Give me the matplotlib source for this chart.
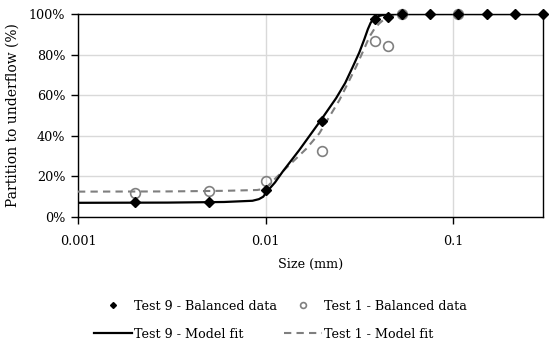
import matplotlib
matplotlib.use("Agg")
import matplotlib.pyplot as plt
from matplotlib.ticker import FixedLocator, FuncFormatter, NullLocator

plt.rcParams['font.family'] = ['DejaVu Serif']

# Balanced data
t9_size = [0.002, 0.005, 0.01, 0.02, 0.038, 0.045, 0.053, 0.075, 0.106, 0.150, 0.212, 0.300]
t9_part = [7.5, 7.2, 13.3, 47.4, 97.4, 98.4, 100, 100, 100, 100, 100, 100]
t1_size = [0.002, 0.005, 0.01, 0.02, 0.038, 0.045, 0.053, 0.106]
t1_part = [12.0, 13.0, 17.7, 32.7, 86.7, 84.4, 100, 100]

# Model fit curves
t9_fit_size = [0.001, 0.003, 0.006, 0.0085, 0.0092, 0.0097, 0.0101, 0.0112, 0.0123, 0.0151,
               0.0197, 0.0237, 0.0265, 0.0291, 0.0315, 0.0335, 0.0350, 0.0362, 0.0375, 0.0400,
               0.0430, 0.0455, 0.06, 0.3]
t9_fit_part = [7.0, 7.1, 7.4, 8.0, 8.8, 10.0, 12.3, 17.0, 22.3, 33.0,
               47.8, 58.5, 66.0, 74.0, 81.0, 87.5, 92.5, 95.6, 97.6, 99.0,
               99.7, 99.9, 100, 100]
t1_fit_size = [0.001, 0.003, 0.006, 0.0090, 0.0097, 0.0102, 0.0114, 0.0135, 0.0164, 0.0193,
               0.0247, 0.0303, 0.0335, 0.0357, 0.0380, 0.0403, 0.0430, 0.0455, 0.0517, 0.06, 0.3]
t1_fit_part = [12.5, 12.6, 12.9, 13.3, 13.8, 15.0, 19.5, 26.0, 33.5, 41.2,
               57.6, 74.0, 83.0, 88.8, 92.8, 95.4, 97.6, 98.7, 99.8, 100, 100]

fig = plt.figure(figsize=(5.5, 3.48), dpi=100)
ax = fig.add_axes([0.1418, 0.3764, 0.8455, 0.5834])

ax.plot(t1_fit_size, t1_fit_part, color='#7f7f7f', lw=1.5, ls=(0, (3.5, 2.5)),
        label='Test 1 - Model fit', zorder=3)
ax.plot(t9_fit_size, t9_fit_part, color='black', lw=1.6, label='Test 9 - Model fit', zorder=4)
ax.plot(t1_size, t1_part, ls='none', marker='o', ms=7, mfc='none', mec='#808080', mew=1.2,
        label='Test 1 - Balanced data', zorder=5, clip_on=False)
ax.plot(t9_size, t9_part, ls='none', marker='D', ms=5, color='black',
        label='Test 9 - Balanced data', zorder=6, clip_on=False)

ax.set_xscale('log')
ax.set_xlim(0.001, 0.3)
ax.set_ylim(0, 100)
ax.xaxis.set_major_locator(FixedLocator([0.001, 0.01, 0.1]))
ax.xaxis.set_minor_locator(NullLocator())
ax.xaxis.set_major_formatter(FuncFormatter(lambda v, p: {0.001: '0.001', 0.01: '0.01', 0.1: '0.1'}.get(round(v, 4), '')))
ax.set_yticks([0, 20, 40, 60, 80, 100])
ax.yaxis.set_major_formatter(FuncFormatter(lambda v, p: f'{int(v)}%'))
ax.grid(True, color='#d9d9d9', lw=1.0)
ax.set_axisbelow(True)
for s in ax.spines.values():
    s.set_color('black')
    s.set_linewidth(1.0)
fs = 9.2
ax.tick_params(axis='both', direction='out', length=5, width=1.0, labelsize=fs, colors='black', pad=4)
ax.tick_params(axis='x', pad=8)

ax.set_xlabel('Size (mm)', fontsize=fs, labelpad=7)
ax.set_ylabel('Partition to underflow (%)', fontsize=10, labelpad=7)

handles, labels = ax.get_legend_handles_labels()
order = [3, 1, 2, 0]
leg = fig.legend([handles[i] for i in order], [labels[i] for i in order],
                 loc='center', bbox_to_anchor=(0.51, 0.08), ncol=2, frameon=False,
                 fontsize=fs, handlelength=3.0, columnspacing=0.55, labelspacing=1.15,
                 handletextpad=0.15, markerscale=0.6)

fig.savefig('out.png', dpi=100)
